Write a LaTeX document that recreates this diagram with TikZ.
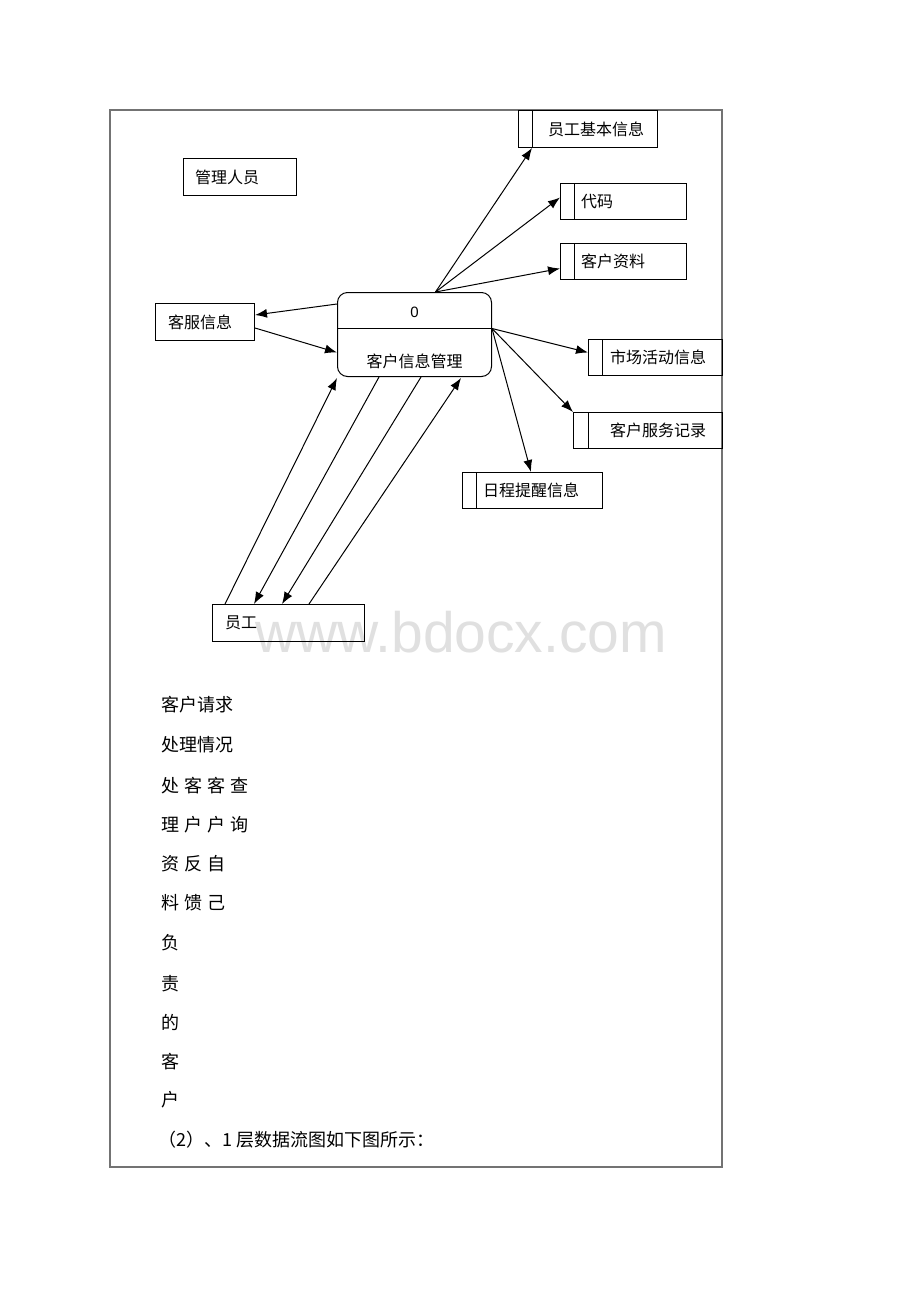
\documentclass[tikz,border=0pt]{standalone}
\usepackage{fontspec}
\newfontfamily\cjk{Noto Sans CJK SC}
\newfontfamily\latinsans{Liberation Sans}
\usetikzlibrary{arrows.meta,calc}
\begin{document}
\begin{tikzpicture}[x=1pt,y=-1pt,
  box/.style={draw, line width=1pt, inner sep=0pt, anchor=north west},
  lbl/.style={anchor=west, inner sep=0pt, font=\cjk\fontsize{16}{19}\selectfont},
  body/.style={anchor=west, inner sep=0pt, font=\cjk\fontsize{18}{21}\selectfont},
  flow/.style={line width=1pt, -{Latex[length=12pt,width=9pt]}},
  divider/.style={line width=1pt}
]
\useasboundingbox (0,0) rectangle (920,1302);
\fill[white] (0,0) rectangle (920,1302);
% watermark
\node[anchor=base west, inner sep=0pt, text=black!12, font=\latinsans\fontsize{57}{60}\selectfont] (wm) at (255,652) {www.bdocx.com};
% outer frame
\draw[black!55, line width=1.2pt] (110,110) rectangle (722,1167);

% external entities
\node[box, minimum width=113pt, minimum height=37pt] (gl) at (183,158) {};
\node[lbl] (gltxt) at ([xshift=12pt]gl.west) {管理人员};
\node[box, minimum width=99pt, minimum height=37pt] (kf) at (155,303) {};
\node[lbl] (kftxt) at ([xshift=13pt]kf.west) {客服信息};
\node[box, minimum width=152pt, minimum height=37pt] (yg) at (212,604) {};
\node[lbl] (ygtxt) at ([xshift=13pt]yg.west) {员工};

% process
\node[box, rounded corners=10pt, minimum width=154pt, minimum height=84pt] (P) at (337,292) {};
\draw[divider] ([yshift=-36pt]P.north west) -- ([yshift=-36pt]P.north east);
\node[inner sep=0pt, font=\latinsans\fontsize{15}{18}\selectfont] (Pnum) at ([yshift=-20pt]P.north) {0};
\node[inner sep=0pt, font=\cjk\fontsize{16}{19}\selectfont] (Ptxt) at ([yshift=16pt]P.south) {客户信息管理};

% data stores
\node[box, minimum width=139pt, minimum height=37pt] (ebi) at (518,110) {};
\draw[divider] ([xshift=14pt]ebi.north west) -- ([xshift=14pt]ebi.south west);
\node[lbl] (ebitxt) at ([xshift=30pt]ebi.west) {员工基本信息};

\node[box, minimum width=126pt, minimum height=36pt] (dm) at (560,183) {};
\draw[divider] ([xshift=14pt]dm.north west) -- ([xshift=14pt]dm.south west);
\node[lbl] (dmtxt) at ([xshift=21pt]dm.west) {代码};

\node[box, minimum width=126pt, minimum height=36pt] (kz) at (560,243) {};
\draw[divider] ([xshift=14pt]kz.north west) -- ([xshift=14pt]kz.south west);
\node[lbl] (kztxt) at ([xshift=21pt]kz.west) {客户资料};

\node[box, minimum width=134pt, minimum height=36pt] (sc) at (588,339) {};
\draw[divider] ([xshift=14pt]sc.north west) -- ([xshift=14pt]sc.south west);
\node[lbl] (sctxt) at ([xshift=22pt]sc.west) {市场活动信息};

\node[box, minimum width=149pt, minimum height=36pt] (fw) at (573,412) {};
\draw[divider] ([xshift=15pt]fw.north west) -- ([xshift=15pt]fw.south west);
\node[lbl] (fwtxt) at ([xshift=37pt]fw.west) {客户服务记录};

\node[box, minimum width=140pt, minimum height=36pt] (rc) at (462,472) {};
\draw[divider] ([xshift=14pt]rc.north west) -- ([xshift=14pt]rc.south west);
\node[lbl] (rctxt) at ([xshift=21pt]rc.west) {日程提醒信息};

% flows
\draw[flow] ([xshift=21pt]P.north) -- ([xshift=14pt]ebi.south west);
\draw[flow] ([xshift=21pt]P.north) -- ([yshift=4pt]dm.west);
\draw[flow] ([xshift=21pt]P.north) -- ([yshift=-7pt]kz.west);
\draw[flow] ([yshift=-12pt]P.north west) -- ([yshift=7pt]kf.east);
\draw[flow] ([yshift=-6pt]kf.east) -- ([yshift=-18pt]P.west);
\draw[flow] ([yshift=6pt]P.east) -- ([yshift=5pt]sc.west);
\draw[flow] ([yshift=6pt]P.east) -- (fw.north west);
\draw[flow] ([yshift=6pt]P.east) -- ([xshift=69pt]rc.north west);
\draw[flow] ([xshift=13pt]yg.north west) -- ([yshift=-1pt]P.south west);
\draw[flow] ([xshift=42pt]P.south west) -- ([xshift=42pt]yg.north west);
\draw[flow] ([xshift=84pt]P.south west) -- ([xshift=70pt]yg.north west);
\draw[flow] ([xshift=97pt]yg.north west) -- ([xshift=124pt,yshift=-1pt]P.south west);

% body text
\node[body] (t1) at (161,705) {客户请求};
\node[body] (t2) at (161,745) {处理情况};
\node[body] (t3) at (161,786) {处\hspace{5pt}客\hspace{5pt}客\hspace{5pt}查};
\node[body] (t4) at (161,825) {理\hspace{5pt}户\hspace{5pt}户\hspace{5pt}询};
\node[body] (t5) at (161,864) {资\hspace{5pt}反\hspace{5pt}自};
\node[body] (t6) at (161,903) {料\hspace{5pt}馈\hspace{5pt}己};
\node[body] (t7) at (161,943) {负};
\node[body] (t8) at (161,984) {责};
\node[body] (t9) at (161,1022) {的};
\node[body] (t10) at (161,1062) {客};
\node[body] (t11) at (161,1100) {户};
\node[body] (t12) at (158,1140) {（2）、1 层数据流图如下图所示：};
\end{tikzpicture}
\end{document}
